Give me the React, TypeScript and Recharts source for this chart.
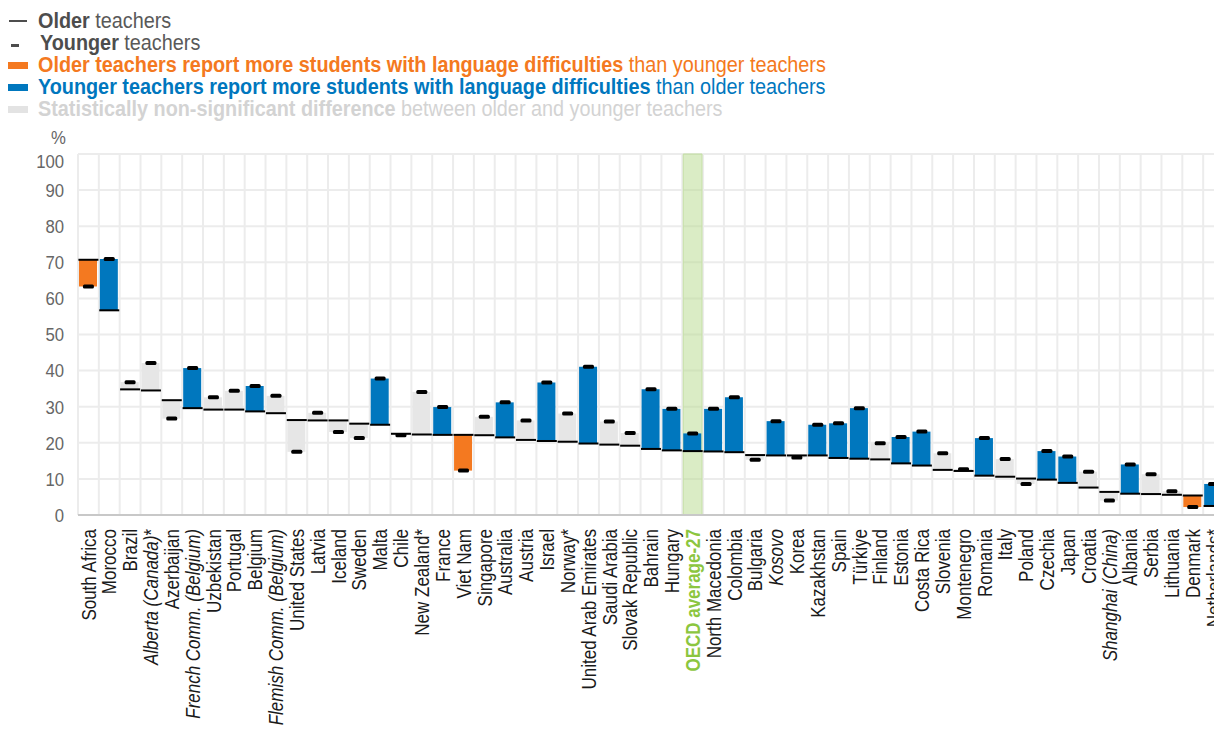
import React from "react";
import {
  ComposedChart,
  Bar,
  Scatter,
  XAxis,
  YAxis,
  CartesianGrid,
  Cell,
} from "recharts";

const countries = [
  "South Africa", "Morocco", "Brazil", "Alberta (Canada)*", "Azerbaijan",
  "French Comm. (Belgium)", "Uzbekistan", "Portugal", "Belgium", "Flemish Comm. (Belgium)",
  "United States", "Latvia", "Iceland", "Sweden", "Malta", "Chile", "New Zealand*",
  "France", "Viet Nam", "Singapore", "Australia", "Austria", "Israel", "Norway*",
  "United Arab Emirates", "Saudi Arabia", "Slovak Republic", "Bahrain", "Hungary",
  "OECD average-27", "North Macedonia", "Colombia", "Bulgaria", "Kosovo", "Korea",
  "Kazakhstan", "Spain", "Türkiye", "Finland", "Estonia", "Costa Rica", "Slovenia",
  "Montenegro", "Romania", "Italy", "Poland", "Czechia", "Japan", "Croatia",
  "Shanghai (China)", "Albania", "Serbia", "Lithuania", "Denmark", "Netherlands*",
];

const olderValues = [
  70.7, 56.7, 34.8, 34.5, 31.8, 29.6, 29.2, 29.2, 28.7, 28.2,
  26.3, 26.2, 26.2, 25.3, 25.0, 22.5, 22.3, 22.2, 22.2, 22.1,
  21.5, 20.8, 20.5, 20.3, 19.8, 19.5, 19.2, 18.3, 17.9, 17.7,
  17.6, 17.4, 16.6, 16.5, 16.5, 16.5, 15.8, 15.6, 15.4, 14.3,
  13.7, 12.5, 12.2, 10.9, 10.6, 10.1, 9.8, 8.9, 7.6, 6.4,
  5.9, 5.8, 5.6, 5.4, 2.5,
];

const youngerValues = [
  63.3, 70.9, 36.8, 42.1, 26.7, 40.7, 32.6, 34.4, 35.7, 33.0,
  17.5, 28.3, 23.0, 21.3, 37.8, 22.1, 34.1, 29.9, 12.3, 27.2,
  31.2, 26.2, 36.7, 28.1, 41.1, 25.9, 22.7, 34.8, 29.4, 22.6,
  29.4, 32.6, 15.3, 26.0, 15.9, 25.0, 25.4, 29.6, 19.9, 21.6,
  23.1, 17.1, 12.7, 21.3, 15.5, 8.6, 17.7, 16.2, 12.0, 4.0,
  14.0, 11.3, 6.6, 2.2, 8.6,
];

const significant = [
  true, true, false, false, false, true, false, false, true, false,
  false, false, false, false, true, false, false, true, true, false,
  true, false, true, false, true, false, false, true, true, true,
  true, true, false, true, false, true, true, true, false, true,
  true, false, false, true, false, false, true, true, false, false,
  true, false, false, true, true,
];

const yTicks = [0, 10, 20, 30, 40, 50, 60, 70, 80, 90, 100];
const italicParts = [
  "Alberta (Canada)",
  "French Comm. (Belgium)",
  "Flemish Comm. (Belgium)",
  "Kosovo",
  "Shanghai (China)",
];
const highlightCategory = "OECD average-27";

const ORANGE = "#f47920";
const BLUE = "#0077be";
const GREY = "#e6e6e6";
const FONT = "'Liberation Sans', Arial, sans-serif";

const data = countries.map((name, i) => {
  const o = olderValues[i];
  const y = youngerValues[i];
  let color = GREY;
  if (significant[i]) color = o > y ? ORANGE : BLUE;
  return {
    name,
    older: o,
    younger: y,
    range: [Math.min(o, y), Math.max(o, y)],
    hl: name === highlightCategory ? 100 : null,
    color,
  };
});

const XTick = (props: any) => {
  const { x, y, payload } = props;
  const label: string = payload.value;
  const isOecd = label === highlightCategory;
  const it = italicParts.find((p) => label.startsWith(p));
  return (
    <text
      transform={`translate(${x},${y + 6}) rotate(-90) scale(0.85,1)`}
      textAnchor="end"
      dy="0.36em"
      fontSize={20}
      fontFamily={FONT}
      fill={isOecd ? "#8cc63f" : "#1a1a1a"}
      fontWeight={isOecd ? "bold" : "normal"}
    >
      {it ? (
        <>
          <tspan fontStyle="italic">{it}</tspan>
          <tspan>{label.slice(it.length)}</tspan>
        </>
      ) : (
        label
      )}
    </text>
  );
};

const YTick = (props: any) => {
  const { x, y, payload } = props;
  const extra = payload.value === 100 ? 7 : 0;
  return (
    <text
      transform={`translate(${x},${y + extra}) scale(0.88,1)`}
      textAnchor="end"
      dy="0.36em"
      fontSize={19}
      fontFamily={FONT}
      fill="#666"
    >
      {payload.value}
    </text>
  );
};

const OlderMark = (props: any) => {
  const { cx, cy } = props;
  return <rect x={cx - 10} y={cy - 1} width={20} height={2} fill="#000" />;
};

const YoungerMark = (props: any) => {
  const { cx, cy } = props;
  return <rect x={cx - 5.5} y={cy - 2} width={11} height={4} rx={1.5} fill="#000" />;
};

const legendRow = (top: number, left = 38): React.CSSProperties => ({
  position: "absolute",
  left,
  top,
  fontFamily: FONT,
  fontSize: 22,
  lineHeight: "22px",
  whiteSpace: "nowrap",
  transform: "scaleX(0.9)",
  transformOrigin: "0 0",
});

export default function App() {
  return (
    <div
      style={{
        position: "fixed",
        left: 0,
        top: 0,
        width: 1214,
        height: 729,
        overflow: "hidden",
        background: "#fff",
      }}
    >
      {/* Legend */}
      <div style={{ position: "absolute", left: 9, top: 20, width: 18, height: 2, background: "#4d4d4d" }} />
      <div style={{ position: "absolute", left: 11, top: 44, width: 8, height: 3, background: "#4d4d4d" }} />
      <div style={{ position: "absolute", left: 8, top: 62, width: 20, height: 7, background: ORANGE }} />
      <div style={{ position: "absolute", left: 8, top: 84, width: 20, height: 7, background: BLUE }} />
      <div style={{ position: "absolute", left: 8, top: 106, width: 20, height: 7, background: "#e3e3e3" }} />
      <div style={{ ...legendRow(10), color: "#595959" }}>
        <b style={{ color: "#4d4d4d" }}>Older</b> teachers
      </div>
      <div style={{ ...legendRow(32, 40), color: "#595959" }}>
        <b style={{ color: "#4d4d4d" }}>Younger</b> teachers
      </div>
      <div style={{ ...legendRow(54), color: ORANGE }}>
        <b>Older teachers report more students with language difficulties</b> than younger teachers
      </div>
      <div style={{ ...legendRow(76), color: BLUE }}>
        <b>Younger teachers report more students with language difficulties</b> than older teachers
      </div>
      <div style={{ ...legendRow(98), color: "#d3d3d3" }}>
        <b>Statistically non-significant difference</b> between older and younger teachers
      </div>
      <div
        style={{
          position: "absolute",
          left: 51,
          top: 128,
          fontFamily: FONT,
          fontSize: 19,
          lineHeight: "20px",
          color: "#666",
          transform: "scaleX(0.88)",
          transformOrigin: "0 0",
        }}
      >
        %
      </div>

      <div style={{ position: "absolute", left: 0, top: 0 }}>
        <ComposedChart
          width={1240}
          height={729}
          data={data}
          margin={{ top: 154, right: 16, bottom: 0, left: 28 }}
          barGap={0}
        >
          <CartesianGrid
            stroke="#ececec"
            strokeWidth={2}
            verticalCoordinatesGenerator={({ offset }: any) =>
              Array.from({ length: countries.length + 1 }, (_, i) =>
                offset.left + (i * offset.width) / countries.length
              )
            }
          />
          <XAxis
            dataKey="name"
            interval={0}
            height={214}
            tick={<XTick />}
            tickLine={false}
            axisLine={{ stroke: "#c8c8c8", strokeWidth: 2 }}
          />
          <XAxis xAxisId="hl" dataKey="name" hide />
          <YAxis
            width={50}
            domain={[0, 100]}
            ticks={yTicks}
            interval={0}
            tickLine={false}
            axisLine={false}
            tickMargin={8}
            tick={<YTick />}
          />
          <Bar
            xAxisId="hl"
            dataKey="hl"
            barSize={21}
            fill="#b5d98c"
            fillOpacity={0.5}
            stroke="#c5e0a5"
            isAnimationActive={false}
          />
          <Bar dataKey="range" barSize={18} isAnimationActive={false}>
            {data.map((d, i) => (
              <Cell key={i} fill={d.color} />
            ))}
          </Bar>
          <Scatter dataKey="older" shape={<OlderMark />} isAnimationActive={false} />
          <Scatter dataKey="younger" shape={<YoungerMark />} isAnimationActive={false} />
        </ComposedChart>
      </div>
    </div>
  );
}
